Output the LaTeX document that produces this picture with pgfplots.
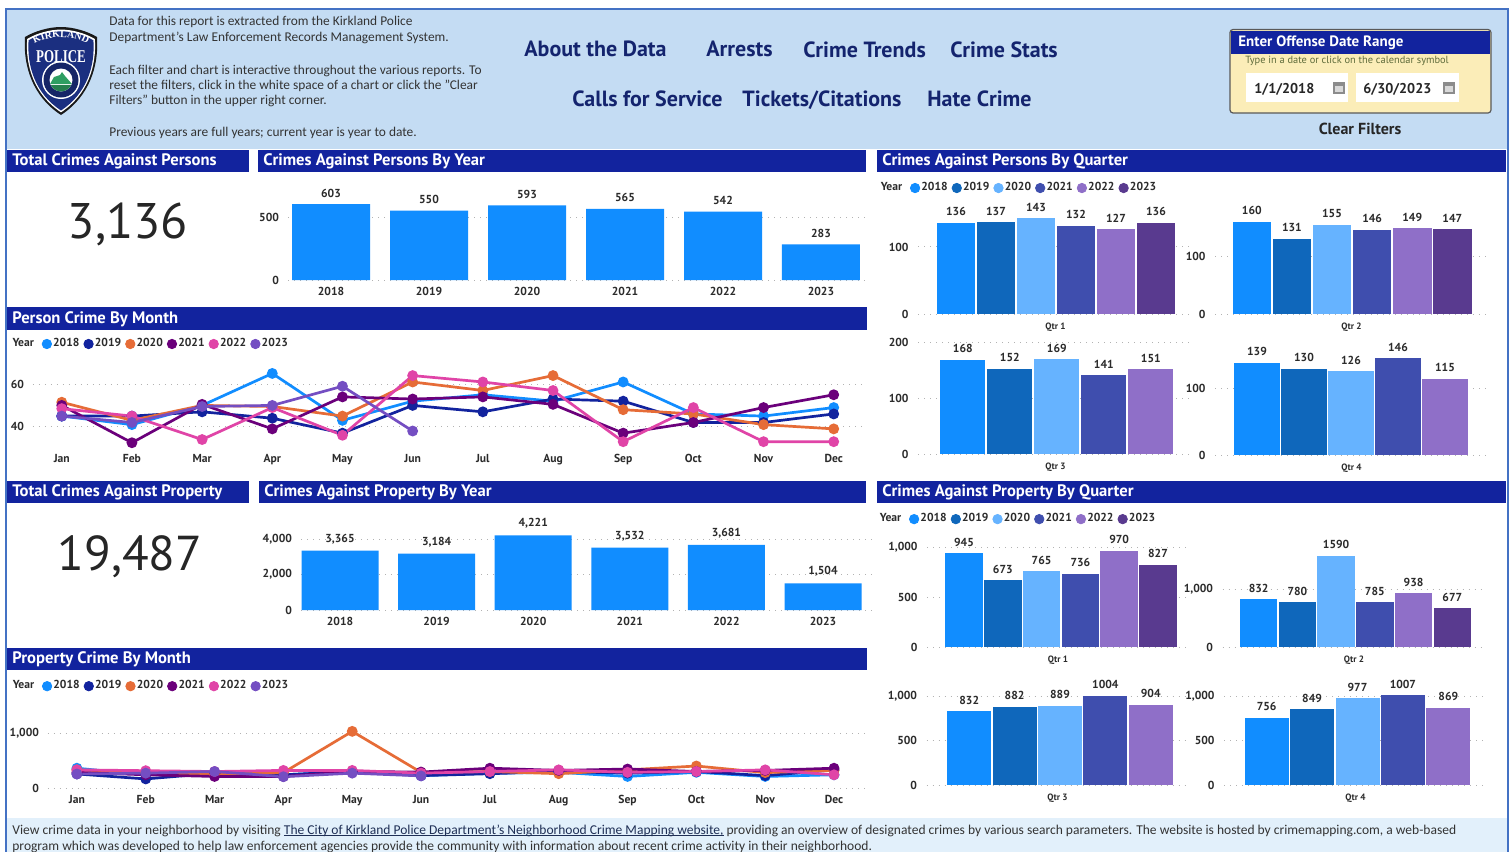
\documentclass[border=0pt]{standalone}
\usepackage{fontspec}
\usepackage{pgfplots}
\usepackage{pgfplotstable}
\pgfplotsset{compat=1.18}
\usetikzlibrary{decorations.text}
\setmainfont{Carlito}
\newfontfamily\din{PT Sans}
\newfontfamily\badge{Liberation Serif}

\definecolor{navy}{HTML}{12239E}
\definecolor{band}{HTML}{C4DCF3}
\definecolor{foot}{HTML}{E2F0FB}
\definecolor{frame}{HTML}{4472C4}
\definecolor{navtext}{HTML}{14246E}
\definecolor{body}{HTML}{333333}
\definecolor{linktext}{HTML}{1F2F55}
\definecolor{tick}{HTML}{2B2B2B}
\definecolor{datebox}{HTML}{FBEDB8}
\definecolor{datehint}{HTML}{5E6B3A}
\definecolor{patch}{HTML}{1B2F80}
\definecolor{seal}{HTML}{2E9E62}
% line colours
\definecolor{la}{HTML}{118DFF}
\definecolor{lb}{HTML}{12239E}
\definecolor{lc}{HTML}{E66C37}
\definecolor{ld}{HTML}{6B007B}
\definecolor{le}{HTML}{E044A7}
\definecolor{lf}{HTML}{744EC2}
% bar colours
\definecolor{ba}{HTML}{118DFF}
\definecolor{bb}{HTML}{0F67BB}
\definecolor{bc}{HTML}{66B3FF}
\definecolor{bd}{HTML}{3F4EAE}
\definecolor{be}{HTML}{8F6FC8}
\definecolor{bf}{HTML}{593A8F}

\newcommand\ticks{\din\bfseries\fontsize{5.8}{7}\selectfont}
\newcommand\legfont{\din\bfseries\fontsize{5.8}{7}\selectfont}
\newcommand\head[5]{\fill[navy] (#1,#2) rectangle (#3,#4);
  \node[anchor=west,inner sep=0,text=white] at (#1+5,#2*0.5+#4*0.5+0.5) {\din\bfseries\fontsize{8.3}{9}\selectfont #5};}
\newcommand\txt[3]{\node[anchor=base west,inner sep=0,text=body] at (#1,#2) {\fontsize{6.7}{7}\selectfont #3};}
\newcommand\nav[3]{\node[anchor=base west,inner sep=0,text=navtext] at (#1,#2) {\din\bfseries\fontsize{11}{12}\selectfont #3};}
\newcommand\ul[1]{\setbox0\hbox{#1}\rlap{\rule[-0.9pt]{\wd0}{0.35pt}}\box0 }
\def\shieldpath{(61,27) .. controls (73,27) and (87,31) .. (97,37) .. controls (99,65) and (90,96) .. (61,115) .. controls (32,96) and (23,65) .. (25,37) .. controls (35,31) and (49,27) .. (61,27) -- cycle}

\pgfplotsset{
  panel/.style n args={4}{at={(#1*0.5pt,-#4*0.5pt)},anchor=south west,
    width={(#3-#1)*0.5pt},height={(#4-#2)*0.5pt}},
  board/.style={scale only axis,axis line style={draw=none},tick style={draw=none},
    ymajorgrids,grid style={line width=0.5pt,dash pattern=on 0.5pt off 2.5pt,color=black!30},
    clip=false,tick label style={font=\ticks,text=tick},
    /pgf/number format/assume math mode=true,/pgf/number format/1000 sep={,},
    yticklabel style={xshift=-1pt}},
  barlab/.style={nodes near coords,every node near coord/.append style={font=\ticks,text=tick,
    inner sep=3.2pt,/pgf/number format/assume math mode=true,/pgf/number format/1000 sep={#1}}},
  qbar/.style={ybar,bar shift=0pt,fill=#1,draw=none,forget plot},
  qtr/.style={xtick=\empty,xlabel={#1},x label style={at={(axis description cs:0.5,0)},anchor=north,
    yshift=-1pt,font=\din\bfseries\fontsize{4.6}{5}\selectfont,text=tick},
    yticklabel style={xshift=-0.2pt}},
  yearleg/.style 2 args={legend style={at={(axis description cs:#1,#2)},anchor=west,draw=none,fill=none,
    inner sep=0pt,font=\legfont,text=tick,legend columns=-1,
    /tikz/every even column/.append style={column sep=1.4pt},
    nodes={inner sep=0.6pt}},legend cell align=left},
  dot/.style={legend image code/.code={\fill[#1] (0,0) circle[radius=2.35pt];}},
  mline/.style={color=#1,line width=1.35pt,mark=*,mark size=2pt,mark options={solid,fill=#1,draw=#1}}
}
\newcommand\yearlegend[6]{%
  \addlegendimage{empty legend}\addlegendentry{Year\rule{1.9pt}{0pt}}
  \addlegendimage{dot,#1}\addlegendentry{2018}
  \addlegendimage{dot,#2}\addlegendentry{2019}
  \addlegendimage{dot,#3}\addlegendentry{2020}
  \addlegendimage{dot,#4}\addlegendentry{2021}
  \addlegendimage{dot,#5}\addlegendentry{2022}
  \addlegendimage{dot,#6}\addlegendentry{2023}}

% monthly counts, nan = not reported yet
\pgfplotstableread{
m y18 y19 y20 y21 y22 y23
0 45 45 51.5 50 48.5 45
1 41 45 43 32.5 45 42
2 50 47 50 50.5 34 49.5
3 65 44 49.5 39 49 50
4 43 37 45 54 36 59
5 52 50 61 53 64 38
6 55 47 57 54 61 nan
7 52 53 64 50.5 57 nan
8 61 52 48 37 33 nan
9 46 42 46 42 49 nan
10 45 42 41 49 33 nan
11 49 46 39 55 33 nan
}\personmonth
\pgfplotstableread{
m y18 y19 y20 y21 y22 y23
0 360 255 330 285 330 255
1 240 165 285 240 315 270
2 290 270 240 210 300 300
3 240 240 280 210 320 205
4 300 300 1030 300 320 270
5 225 225 285 290 270 220
6 270 260 300 360 300 nan
7 285 300 260 320 330 nan
8 210 270 330 345 285 nan
9 285 300 400 300 300 nan
10 210 225 280 320 330 nan
11 240 330 320 360 240 nan
}\propertymonth

\begin{document}
\begin{tikzpicture}[x=0.5pt,y=-0.5pt]
\path[use as bounding box] (0,0) rectangle (1512,852);
\fill[white] (0,0) rectangle (1512,852);

% frame and bands
\fill[band] (7,9) rectangle (1507,149);
\fill[foot] (7,818) rectangle (1507,852);
\draw[frame,line width=1pt] (6,852) -- (6,8.5) -- (1508,8.5) -- (1508,852);

% badge
\fill[black!90] \shieldpath;
\begin{scope}[shift={(61,70)},scale=0.94,shift={(-61,-70)}]
\fill[white] \shieldpath;
\end{scope}
\begin{scope}[shift={(61,70)},scale=0.9,shift={(-61,-70)}]
\fill[patch] \shieldpath;
\end{scope}
\path[decorate,decoration={text along path,text align=center,
  text={|\badge\bfseries\fontsize{5}{6}\selectfont\color{white}|KIRKLAND}}]
  (30,47) .. controls (44,34) and (78,34) .. (92,47);
\node[text=white,inner sep=0,xscale=0.72] at (61,57) {\badge\bfseries\fontsize{9}{10}\selectfont POLICE};
\fill[white] (61,80) circle[radius=19];
\fill[patch!80!black] (61,80) circle[radius=17.5];
\fill[white] (61,80) circle[radius=11.5];
\begin{scope}
\clip (61,80) circle[radius=11.5];
\fill[seal] (50,84) -- (54,77) -- (60,75) -- (62,72) -- (65,76) -- (72,84) -- cycle;
\fill[seal!80!black] (48,85) rectangle (74,93);
\end{scope}

% intro text
\txt{109}{25}{Data for this report is extracted from the Kirkland Police}
\txt{109}{41}{Department's Law Enforcement Records Management System.}
\txt{109}{74}{Each filter and chart is interactive throughout the various reports. To}
\txt{109}{89}{reset the filters, click in the white space of a chart or click the "Clear}
\txt{109}{104}{Filters" button in the upper right corner.}
\txt{109}{136}{Previous years are full years; current year is year to date.}

% navigation
\nav{524}{56}{About the Data}
\nav{706}{56}{Arrests}
\nav{803}{57}{Crime Trends}
\nav{950}{57}{Crime Stats}
\nav{572}{106}{Calls for Service}
\nav{742}{106}{Tickets/Citations}
\nav{927}{106}{Hate Crime}

% date box
\filldraw[fill=datebox,draw=black!65,line width=0.6pt,rounded corners=1.5pt] (1230,29.5) rectangle (1491,113);
\fill[navy] (1231,30.5) rectangle (1490,54);
\node[anchor=base west,inner sep=0,text=white] at (1238,46) {\din\bfseries\fontsize{7.5}{9}\selectfont Enter Offense Date Range};
\node[anchor=base west,inner sep=0,text=datehint] at (1245,63) {\din\fontsize{5.2}{6}\selectfont Type in a date or click on the calendar symbol};
\fill[white] (1246,73) rectangle (1348,102);
\fill[white] (1356,73) rectangle (1459,102);
\node[anchor=base west,inner sep=0,text=black!85] at (1254,93) {\din\bfseries\fontsize{7.1}{9}\selectfont 1/1/2018};
\node[anchor=base west,inner sep=0,text=black!85] at (1363,93) {\din\bfseries\fontsize{7.1}{9}\selectfont 6/30/2023};
\fill[black!45] (1333,82) rectangle (1345,94);
\fill[white!85!black] (1335,86) rectangle (1343,92);
\fill[black!45] (1443,82) rectangle (1455,94);
\fill[white!85!black] (1445,86) rectangle (1453,92);
\node[text=black!85,inner sep=0] at (1360,129) {\din\bfseries\fontsize{8}{9}\selectfont Clear Filters};

% section headers
\head{7}{150}{249}{172}{Total Crimes Against Persons}
\head{258}{150}{866}{172}{Crimes Against Persons By Year}
\head{877}{150}{1506}{172}{Crimes Against Persons By Quarter}
\head{7}{307}{867}{330}{Person Crime By Month}
\head{7}{481}{249}{503}{Total Crimes Against Property}
\head{259}{481}{866}{503}{Crimes Against Property By Year}
\head{877}{481}{1506}{503}{Crimes Against Property By Quarter}
\head{7}{648}{867}{670}{Property Crime By Month}

% totals
\node[text=black!85,inner sep=0] at (128,224) {\din\fontsize{25}{30}\selectfont 3,136};
\node[text=black!85,inner sep=0] at (130,557) {\din\fontsize{24.5}{30}\selectfont 19,487};

% footer
\node[anchor=base west,inner sep=0,text=body] at (12,834) {\fontsize{6.76}{7}\selectfont View crime data in your neighborhood by visiting \textcolor{linktext}{\ul{The City of Kirkland Police Department's Neighborhood Crime Mapping website,}}\ providing an overview of designated crimes by various search parameters. The website is hosted by crimemapping.com, a web-based};
\node[anchor=base west,inner sep=0,text=body] at (12,850) {\fontsize{6.76}{7}\selectfont program which was developed to help law enforcement agencies provide the community with information about recent crime activity in their neighborhood.};

% persons by year
\begin{axis}[board,panel={288}{184}{870}{280},barlab={,},xmin=-0.439,xmax=5.5,ymin=0,ymax=762,
  xtick={0,...,5},xticklabels={2018,2019,2020,2021,2022,2023},ytick={0,500},bar width=39pt]
\addplot[qbar=ba] coordinates {(0,603) (1,550) (2,593) (3,565) (4,542) (5,283)};
\end{axis}

% property by year
\begin{axis}[board,panel={301}{525}{872}{610},barlab={,},xmin=-0.404,xmax=5.507,ymin=0,ymax=4808,
  xtick={0,...,5},xticklabels={2018,2019,2020,2021,2022,2023},ytick={0,2000,4000},bar width=38.5pt]
\addplot[qbar=ba] coordinates {(0,3365) (1,3184) (2,4221) (3,3532) (4,3681) (5,1504)};
\end{axis}

% person crime by month
\begin{axis}[board,panel={33}{360}{866}{447},xmin=-0.41,xmax=11.46,ymin=30.5,ymax=71.3,
  xtick={0,...,11},xticklabels={Jan,Feb,Mar,Apr,May,Jun,Jul,Aug,Sep,Oct,Nov,Dec},ytick={40,60},
  yearleg={-0.0264}{1.184}]
\yearlegend{la}{lb}{lc}{ld}{le}{lf}
\addplot[mline=la,forget plot] table[x=m,y=y18] {\personmonth};
\addplot[mline=lb,forget plot] table[x=m,y=y19] {\personmonth};
\addplot[mline=lc,forget plot] table[x=m,y=y20] {\personmonth};
\addplot[mline=ld,forget plot] table[x=m,y=y21] {\personmonth};
\addplot[mline=le,forget plot] table[x=m,y=y22] {\personmonth};
\addplot[mline=lf,forget plot] table[x=m,y=y23] {\personmonth};
\end{axis}

% property crime by month
\begin{axis}[board,panel={48}{700}{865}{788},xmin=-0.42,xmax=11.45,ymin=0,ymax=1600,
  xtick={0,...,11},xticklabels={Jan,Feb,Mar,Apr,May,Jun,Jul,Aug,Sep,Oct,Nov,Dec},ytick={0,1000},
  yearleg={-0.045}{1.157}]
\yearlegend{la}{lb}{lc}{ld}{le}{lf}
\addplot[mline=la,forget plot] table[x=m,y=y18] {\propertymonth};
\addplot[mline=lb,forget plot] table[x=m,y=y19] {\propertymonth};
\addplot[mline=lc,forget plot] table[x=m,y=y20] {\propertymonth};
\addplot[mline=ld,forget plot] table[x=m,y=y21] {\propertymonth};
\addplot[mline=le,forget plot] table[x=m,y=y22] {\propertymonth};
\addplot[mline=lf,forget plot] table[x=m,y=y23] {\propertymonth};
\end{axis}

% persons by quarter
\begin{axis}[board,panel={918}{200}{1193}{314},qtr={Qtr 1},barlab={},xmin=-0.95,xmax=5.925,ymin=0,ymax=170.1,
  ytick={0,100},bar width=19.3pt,yearleg={-0.141}{1.105}]
\yearlegend{ba}{bb}{bc}{bd}{be}{bf}
\addplot[qbar=ba] coordinates {(0,136)};
\addplot[qbar=bb] coordinates {(1,137)};
\addplot[qbar=bc] coordinates {(2,143)};
\addplot[qbar=bd] coordinates {(3,132)};
\addplot[qbar=be] coordinates {(4,127)};
\addplot[qbar=bf] coordinates {(5,136)};
\end{axis}
\begin{axis}[board,panel={1215}{200}{1488}{314},qtr={Qtr 2},barlab={},xmin=-0.918,xmax=5.89,ymin=0,ymax=197.9,
  ytick={0,100},bar width=19.3pt]
\addplot[qbar=ba] coordinates {(0,160)};
\addplot[qbar=bb] coordinates {(1,131)};
\addplot[qbar=bc] coordinates {(2,155)};
\addplot[qbar=bd] coordinates {(3,146)};
\addplot[qbar=be] coordinates {(4,149)};
\addplot[qbar=bf] coordinates {(5,147)};
\end{axis}
\begin{axis}[board,panel={918}{342}{1193}{454},qtr={Qtr 3},barlab={},xmin=-0.953,xmax=4.898,ymin=0,ymax=200,
  ytick={0,100,200},bar width=22.7pt]
\addplot[qbar=ba] coordinates {(0,168)};
\addplot[qbar=bb] coordinates {(1,152)};
\addplot[qbar=bc] coordinates {(2,169)};
\addplot[qbar=bd] coordinates {(3,141)};
\addplot[qbar=be] coordinates {(4,151)};
\end{axis}
\begin{axis}[board,panel={1215}{342}{1488}{455},qtr={Qtr 4},barlab={},xmin=-0.894,xmax=4.915,ymin=0,ymax=170.4,
  ytick={0,100},bar width=22.7pt]
\addplot[qbar=ba] coordinates {(0,139)};
\addplot[qbar=bb] coordinates {(1,130)};
\addplot[qbar=bc] coordinates {(2,126)};
\addplot[qbar=bd] coordinates {(3,146)};
\addplot[qbar=be] coordinates {(4,115)};
\end{axis}

% property by quarter
\begin{axis}[board,panel={927}{530}{1189}{647},qtr={Qtr 1},barlab={},xmin=-0.954,xmax=5.8,ymin=0,ymax=1178,
  ytick={0,500,1000},bar width=18.7pt,yearleg={-0.186}{1.093}]
\yearlegend{ba}{bb}{bc}{bd}{be}{bf}
\addplot[qbar=ba] coordinates {(0,945)};
\addplot[qbar=bb] coordinates {(1,673)};
\addplot[qbar=bc] coordinates {(2,765)};
\addplot[qbar=bd] coordinates {(3,736)};
\addplot[qbar=be] coordinates {(4,970)};
\addplot[qbar=bf] coordinates {(5,827)};
\end{axis}
\begin{axis}[board,panel={1222.5}{530}{1485.5}{647},qtr={Qtr 2},barlab={},xmin=-0.935,xmax=5.858,ymin=0,ymax=2042,
  ytick={0,1000},bar width=18.7pt]
\addplot[qbar=ba] coordinates {(0,832)};
\addplot[qbar=bb] coordinates {(1,780)};
\addplot[qbar=bc] coordinates {(2,1590)};
\addplot[qbar=bd] coordinates {(3,785)};
\addplot[qbar=be] coordinates {(4,938)};
\addplot[qbar=bf] coordinates {(5,677)};
\end{axis}
\begin{axis}[board,panel={926.5}{680}{1188.5}{785},qtr={Qtr 3},barlab={},xmin=-0.941,xmax=4.831,ymin=0,ymax=1180,
  ytick={0,500,1000},bar width=22pt]
\addplot[qbar=ba] coordinates {(0,832)};
\addplot[qbar=bb] coordinates {(1,882)};
\addplot[qbar=bc] coordinates {(2,889)};
\addplot[qbar=bd] coordinates {(3,1004)};
\addplot[qbar=be] coordinates {(4,904)};
\end{axis}
\begin{axis}[board,panel={1224}{680}{1487}{785},qtr={Qtr 4},barlab={},xmin=-0.94,xmax=4.852,ymin=0,ymax=1180,
  ytick={0,500,1000},bar width=22pt]
\addplot[qbar=ba] coordinates {(0,756)};
\addplot[qbar=bb] coordinates {(1,849)};
\addplot[qbar=bc] coordinates {(2,977)};
\addplot[qbar=bd] coordinates {(3,1007)};
\addplot[qbar=be] coordinates {(4,869)};
\end{axis}
\end{tikzpicture}
\end{document}
